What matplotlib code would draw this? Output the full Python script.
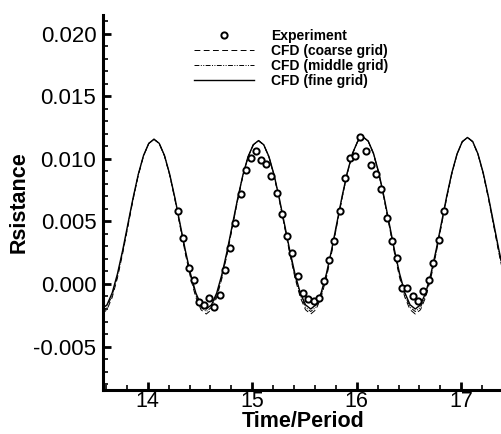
import matplotlib
matplotlib.use('Agg')
import matplotlib.pyplot as plt
from matplotlib.ticker import MultipleLocator, FormatStrFormatter

plt.rcParams['font.family'] = ['Liberation Sans', 'DejaVu Sans']
plt.rcParams['axes.unicode_minus'] = False

# CFD time samples (Time/Period)
cfd_time = [13.56, 13.61, 13.66, 13.71, 13.76, 13.81, 13.86, 13.91, 13.96, 14.01,
            14.06, 14.11, 14.16, 14.21, 14.26, 14.31, 14.36, 14.41, 14.46, 14.51,
            14.56, 14.61, 14.66, 14.71, 14.76, 14.81, 14.86, 14.91, 14.96, 15.01,
            15.06, 15.11, 15.16, 15.21, 15.26, 15.31, 15.36, 15.41, 15.46, 15.51,
            15.56, 15.61, 15.66, 15.71, 15.76, 15.81, 15.86, 15.91, 15.96, 16.01,
            16.06, 16.11, 16.16, 16.21, 16.26, 16.31, 16.36, 16.41, 16.46, 16.51,
            16.56, 16.61, 16.66, 16.71, 16.76, 16.81, 16.86, 16.91, 16.96, 17.01,
            17.06, 17.11, 17.16, 17.21, 17.26, 17.31, 17.36, 17.41]

cfd_coarse = [-0.00240, -0.00206, -0.00107, 0.00048, 0.00242, 0.00458, 0.00674, 0.00869, 0.01023, 0.01122,
              0.01156, 0.01122, 0.01023, 0.00869, 0.00674, 0.00458, 0.00242, 0.00048, -0.00107, -0.00206,
              -0.00240, -0.00206, -0.00108, 0.00045, 0.00239, 0.00453, 0.00666, 0.00860, 0.01013, 0.01111,
              0.01145, 0.01111, 0.01013, 0.00860, 0.00666, 0.00453, 0.00239, 0.00045, -0.00108, -0.00206,
              -0.00240, -0.00205, -0.00105, 0.00051, 0.00249, 0.00468, 0.00686, 0.00884, 0.01040, 0.01140,
              0.01175, 0.01140, 0.01040, 0.00884, 0.00686, 0.00468, 0.00249, 0.00051, -0.00105, -0.00205,
              -0.00240, -0.00206, -0.00105, 0.00050, 0.00247, 0.00465, 0.00683, 0.00880, 0.01035, 0.01136,
              0.01170, 0.01136, 0.01035, 0.00880, 0.00683, 0.00465, 0.00247, 0.00050]

cfd_middle = [-0.00220, -0.00187, -0.00089, 0.00064, 0.00255, 0.00468, 0.00681, 0.00873, 0.01025, 0.01122,
              0.01156, 0.01122, 0.01025, 0.00873, 0.00681, 0.00468, 0.00255, 0.00064, -0.00089, -0.00187,
              -0.00220, -0.00187, -0.00090, 0.00061, 0.00252, 0.00463, 0.00673, 0.00864, 0.01015, 0.01111,
              0.01145, 0.01111, 0.01015, 0.00864, 0.00673, 0.00463, 0.00252, 0.00061, -0.00090, -0.00187,
              -0.00220, -0.00186, -0.00087, 0.00067, 0.00262, 0.00478, 0.00693, 0.00888, 0.01042, 0.01140,
              0.01175, 0.01140, 0.01042, 0.00888, 0.00693, 0.00478, 0.00262, 0.00067, -0.00087, -0.00186,
              -0.00220, -0.00187, -0.00087, 0.00066, 0.00260, 0.00475, 0.00690, 0.00884, 0.01037, 0.01136,
              0.01170, 0.01136, 0.01037, 0.00884, 0.00690, 0.00475, 0.00260, 0.00066]

cfd_fine = [-0.00200, -0.00167, -0.00071, 0.00080, 0.00268, 0.00478, 0.00688, 0.00877, 0.01027, 0.01123,
            0.01156, 0.01123, 0.01027, 0.00877, 0.00688, 0.00478, 0.00268, 0.00080, -0.00071, -0.00167,
            -0.00200, -0.00167, -0.00072, 0.00077, 0.00265, 0.00473, 0.00680, 0.00868, 0.01017, 0.01112,
            0.01145, 0.01112, 0.01017, 0.00868, 0.00680, 0.00473, 0.00265, 0.00077, -0.00072, -0.00167,
            -0.00200, -0.00166, -0.00069, 0.00083, 0.00275, 0.00488, 0.00700, 0.00892, 0.01044, 0.01141,
            0.01175, 0.01141, 0.01044, 0.00892, 0.00700, 0.00488, 0.00275, 0.00083, -0.00069, -0.00166,
            -0.00200, -0.00167, -0.00069, 0.00082, 0.00273, 0.00485, 0.00697, 0.00888, 0.01039, 0.01137,
            0.01170, 0.01137, 0.01039, 0.00888, 0.00697, 0.00485, 0.00273, 0.00082]

# Experiment
exp_time = [14.288, 14.337, 14.391, 14.445, 14.489, 14.540, 14.589, 14.638, 14.690, 14.742,
            14.789, 14.838, 14.891, 14.939, 14.987, 15.035, 15.083, 15.133, 15.184, 15.236,
            15.287, 15.337, 15.385, 15.437, 15.485, 15.536, 15.587, 15.637, 15.682, 15.735,
            15.785, 15.836, 15.883, 15.931, 15.979, 16.034, 16.088, 16.136, 16.184, 16.235,
            16.286, 16.337, 16.386, 16.433, 16.484, 16.535, 16.585, 16.638, 16.688, 16.734,
            16.786, 16.832]
exp_res = [0.0058, 0.0037, 0.0013, 0.0003, -0.00144, -0.0017, -0.0011, -0.0018, -0.00085, 0.0011,
           0.0029, 0.0049, 0.0072, 0.0091, 0.0101, 0.01065, 0.0099, 0.0096, 0.0086, 0.0073,
           0.0056, 0.0038, 0.0025, 0.00066, -0.0007, -0.0012, -0.0014, -0.0011, 0.0002, 0.0019,
           0.0034, 0.0058, 0.0085, 0.0101, 0.0102, 0.0117, 0.01065, 0.0095, 0.0088, 0.0076,
           0.0053, 0.0034, 0.0021, -0.0003, -0.0003, -0.0010, -0.0014, -0.0006, 0.0003, 0.0017,
           0.0035, 0.0058]

fig = plt.figure(figsize=(5.02, 4.34), dpi=100)
ax = fig.add_axes([0.2058, 0.1025, 0.7942, 0.8629])

ax.plot(exp_time, exp_res, linestyle='none', marker='o', markersize=4.5,
        markerfacecolor='white', markeredgecolor='black', markeredgewidth=1.4,
        label='Experiment', zorder=5)
ax.plot(cfd_time, cfd_coarse, color='black', linewidth=0.7, dashes=(6, 3.5),
        label='CFD (coarse grid)')
ax.plot(cfd_time, cfd_middle, color='black', linewidth=0.7,
        dashes=(5, 1.5, 1, 1.5, 1, 1.5), label='CFD (middle grid)')
ax.plot(cfd_time, cfd_fine, color='black', linewidth=1.0, label='CFD (fine grid)')

ax.set_xlim(13.575, 17.39)
ax.set_ylim(-0.00843, 0.02148)

ax.xaxis.set_major_locator(MultipleLocator(1))
ax.xaxis.set_minor_locator(MultipleLocator(0.2))
ax.yaxis.set_major_locator(MultipleLocator(0.005))
ax.yaxis.set_minor_locator(MultipleLocator(0.001))
ax.yaxis.set_major_formatter(FormatStrFormatter('%.3f'))

for side in ['top', 'right']:
    ax.spines[side].set_visible(False)
for side in ['left', 'bottom']:
    ax.spines[side].set_linewidth(2.2)

ax.tick_params(which='major', direction='in', length=5.5, width=2.0, labelsize=15.5)
ax.tick_params(which='minor', direction='in', length=3.5, width=1.2)
ax.tick_params(axis='y', which='major', labelsize=16, pad=5)
ax.tick_params(axis='x', pad=1)

ax.set_xlabel('Time/Period', fontsize=15.5, fontweight='bold', labelpad=-1)
ax.set_ylabel('Rsistance', fontsize=15.5, fontweight='bold', labelpad=3)

ax.legend(loc='upper left', bbox_to_anchor=(0.2275, 0.963), frameon=False,
          prop={'size': 10, 'weight': 'bold'}, handlelength=4.3,
          handletextpad=1.25, labelspacing=0.08, borderpad=0, borderaxespad=0)

fig.savefig('out.png', dpi=100)
